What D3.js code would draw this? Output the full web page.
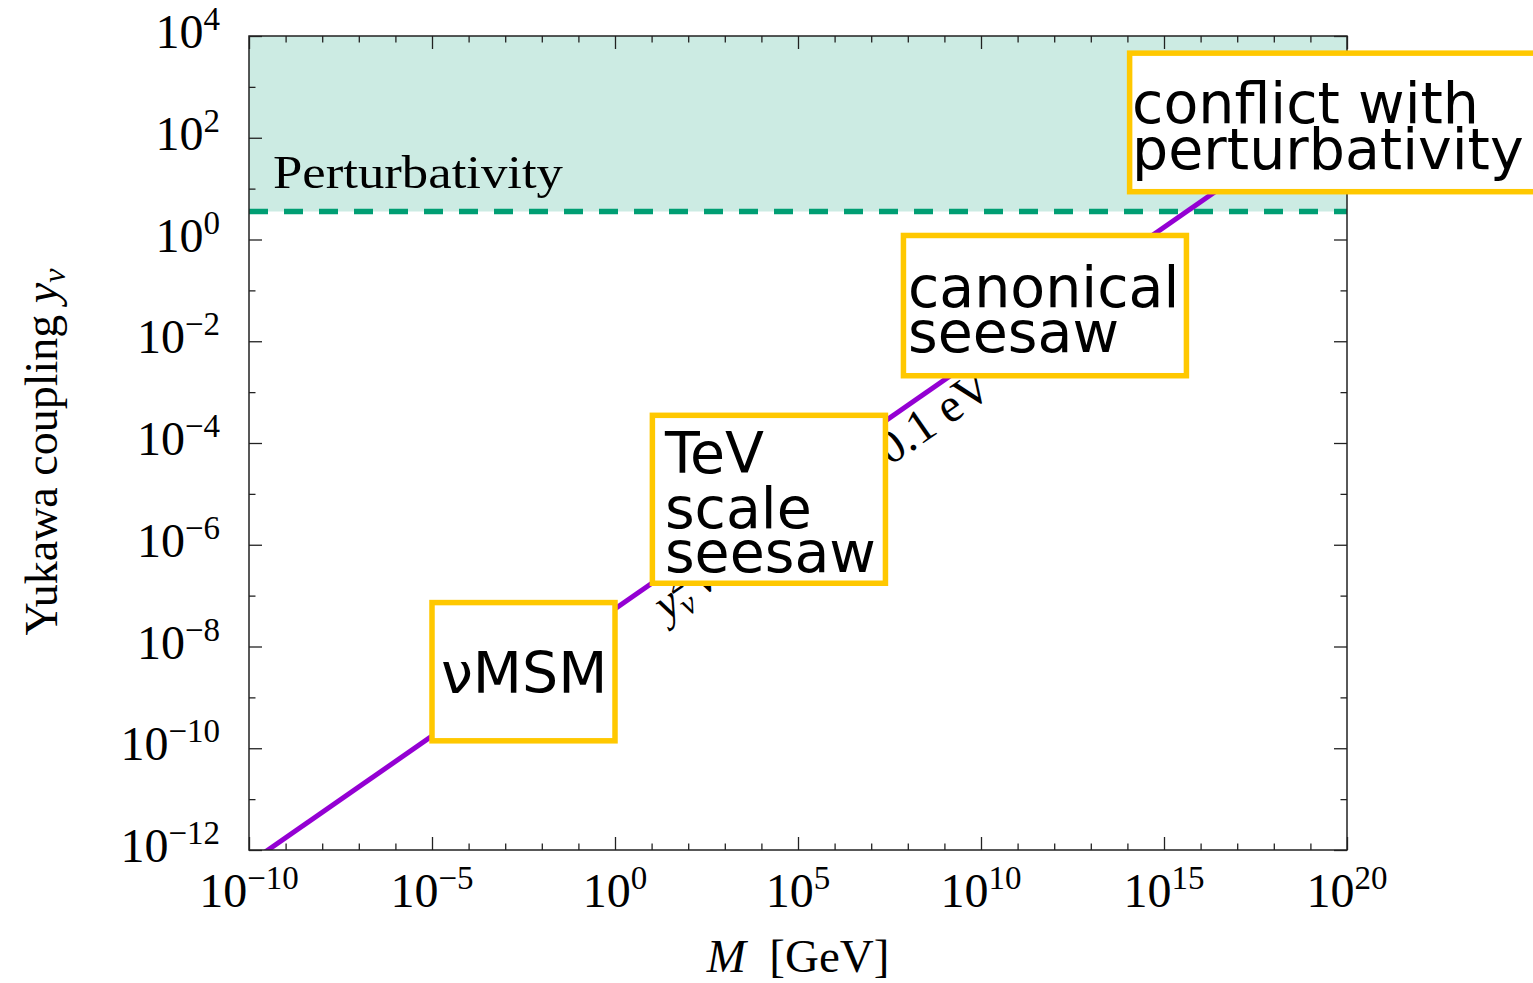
<!DOCTYPE html>
<html>
<head>
<meta charset="utf-8">
<script src="https://cdn.jsdelivr.net/npm/d3@7"></script>
<style>
  html, body { margin: 0; padding: 0; background: #fff; overflow: hidden; }
  svg text { font-family: "Liberation Serif", "Times New Roman", serif; fill: #000; }
  svg text.box-label { font-family: "DejaVu Sans", sans-serif; }
</style>
</head>
<body>
<svg id="chart" width="1533" height="983"></svg>
<script>
'use strict';

// axis ranges and ticks (exponents of ten)
const massDomain = [1e-10, 1e20];
const yukawaDomain = [1e-12, 1e4];
const massMajorExp = [-10, -5, 0, 5, 10, 15, 20];
const massMinorExp = d3.range(-10, 21);
const yukawaMajorExp = [-12, -10, -8, -6, -4, -2, 0, 2, 4];
const yukawaMinorExp = d3.range(-12, 5);

const lineMass = [1e-10, 1e20];
const lineYukawa = [5.5e-13, 5.5e2];

// perturbativity bound on the Yukawa coupling
const perturbativityLimit = 3.55;

// labelled regions: text lines, mass span and coupling span of the box
const regionLines = [['νMSM'], ['TeV', 'scale', 'seesaw'], ['canonical', 'seesaw'], ['conflict with', 'perturbativity']];
const regionMass = [[1e-5, 1e0], [1.05e1, 2.45e7], [7.6e7, 4.1e15], [1.15e14, 2e25]];
const regionYukawa = [[7.3e-8, 1.4e-10], [3.5e-4, 1.75e-7], [1.2e0, 2.1e-3], [4.6e3, 8.7e0]];

const W = 1533, H = 983;
const plot = { left: 249, right: 1347, top: 36, bottom: 850 };

const x = d3.scaleLog().domain(massDomain).range([plot.left, plot.right]);
const y = d3.scaleLog().domain(yukawaDomain).range([plot.bottom, plot.top]);

const svg = d3.select('#chart');
svg.append('rect').attr('width', W).attr('height', H).attr('fill', '#fff');

svg.append('defs').append('clipPath').attr('id', 'plot-clip')
  .append('rect')
    .attr('x', plot.left).attr('y', plot.top)
    .attr('width', plot.right - plot.left).attr('height', plot.bottom - plot.top);

const plotg = svg.append('g').attr('clip-path', 'url(#plot-clip)');

// excluded (non perturbative) region
plotg.append('rect')
    .attr('x', plot.left)
    .attr('y', plot.top)
    .attr('width', plot.right - plot.left)
    .attr('height', y(perturbativityLimit) - plot.top)
    .attr('fill', '#ccebe3');

plotg.append('line')
    .attr('x1', plot.left).attr('x2', plot.right)
    .attr('y1', y(perturbativityLimit)).attr('y2', y(perturbativityLimit))
    .attr('stroke', '#009e73')
    .attr('stroke-width', 5.5)
    .attr('stroke-dasharray', '19 16');

const linePts = d3.zip(lineMass, lineYukawa);
plotg.append('path')
    .datum(linePts)
    .attr('d', d3.line().x(d => x(d[0])).y(d => y(d[1])))
    .attr('fill', 'none')
    .attr('stroke', '#9400d3')
    .attr('stroke-width', 5);

// label running along the line (start and end pieces, middle sits under a box)
const p0 = [x(lineMass[0]), y(lineYukawa[0])];
const p1 = [x(lineMass[1]), y(lineYukawa[1])];
const ang = Math.atan2(p1[1] - p0[1], p1[0] - p0[0]);
const slope = (p1[1] - p0[1]) / (p1[0] - p0[0]);
const ax0 = x(10 ** 0.79);
const ay0 = p0[1] + (ax0 - p0[0]) * slope;
const off = 40;
const labg = plotg.append('g')
    .attr('transform', `translate(${ax0 - Math.sin(ang) * off}, ${ay0 + Math.cos(ang) * off}) rotate(${ang * 180 / Math.PI})`);
const lab = labg.append('text').attr('font-size', 46);
lab.append('tspan').attr('font-style', 'italic').text('y');
lab.append('tspan').attr('font-style', 'italic').attr('font-size', 32).attr('dy', 8).text('ν');
lab.append('tspan').attr('font-size', 32).attr('dx', -15).attr('dy', -27).text('2');
lab.append('tspan').attr('font-style', 'italic').attr('dy', 19).text('\u2009v');
lab.append('tspan').attr('font-size', 32).attr('dy', -19).text('2');
lab.append('tspan').attr('dy', 19).text('/');
lab.append('tspan').attr('font-style', 'italic').text('M');
labg.append('text')
    .attr('x', 400)
    .attr('text-anchor', 'end')
    .attr('font-size', 48)
    .text('= 0.1 eV');

plotg.append('text')
    .attr('x', plot.left + 24)
    .attr('y', y(perturbativityLimit) - 24)
    .attr('font-size', 47)
    .attr('textLength', 290)
    .attr('lengthAdjust', 'spacingAndGlyphs')
    .text('Perturbativity');

// ticks (inward on all four sides)
const tickColor = '#222';
function drawTicks(axisFn, transform, values, size) {
  const g = svg.append('g')
      .attr('transform', transform)
      .call(axisFn.tickValues(values).tickSizeInner(-size).tickSizeOuter(0).tickFormat(''));
  g.select('.domain').remove();
  g.selectAll('.tick line').attr('stroke', tickColor).attr('stroke-width', 1.3);
}
const massMajor = massMajorExp.map(e => 10 ** e);
const massMinor = massMinorExp.filter(e => !massMajorExp.includes(e)).map(e => 10 ** e);
const yukMajor = yukawaMajorExp.map(e => 10 ** e);
const yukMinor = yukawaMinorExp.filter(e => !yukawaMajorExp.includes(e)).map(e => 10 ** e);

drawTicks(d3.axisBottom(x), `translate(0,${plot.bottom})`, massMajor, 13);
drawTicks(d3.axisBottom(x), `translate(0,${plot.bottom})`, massMinor, 6.5);
drawTicks(d3.axisTop(x), `translate(0,${plot.top})`, massMajor, 13);
drawTicks(d3.axisTop(x), `translate(0,${plot.top})`, massMinor, 6.5);
drawTicks(d3.axisLeft(y), `translate(${plot.left},0)`, yukMajor, 13);
drawTicks(d3.axisLeft(y), `translate(${plot.left},0)`, yukMinor, 6.5);
drawTicks(d3.axisRight(y), `translate(${plot.right},0)`, yukMajor, 13);
drawTicks(d3.axisRight(y), `translate(${plot.right},0)`, yukMinor, 6.5);

svg.append('rect')
    .attr('x', plot.left).attr('y', plot.top)
    .attr('width', plot.right - plot.left).attr('height', plot.bottom - plot.top)
    .attr('fill', 'none')
    .attr('stroke', tickColor)
    .attr('stroke-width', 1.5);

// region boxes
const boxLayout = [
  { dx: 9, baselines: [90.5] },
  { dx: 12.5, baselines: [57.5, 112.5, 156.5] },
  { dx: 4.5, baselines: [71.5, 116.5] },
  { dx: 2.5, baselines: [69.5, 115.5] }
];
const boxes = regionLines.map((lines, i) => ({
  lines,
  m: regionMass[i],
  c: regionYukawa[i],
  layout: boxLayout[i]
}));
const boxg = svg.selectAll('g.region').data(boxes).enter().append('g').classed('region', true)
    .attr('transform', d => `translate(${x(d.m[0])}, ${y(d.c[0])})`);
boxg.append('rect')
    .attr('width', d => x(d.m[1]) - x(d.m[0]))
    .attr('height', d => y(d.c[1]) - y(d.c[0]))
    .attr('fill', '#fff')
    .attr('stroke', '#ffc800')
    .attr('stroke-width', 5.5);
boxg.each(function (d) {
  const g = d3.select(this);
  d.lines.forEach((ln, k) => {
    g.append('text')
        .classed('box-label', true)
        .attr('x', d.layout.dx)
        .attr('y', d.layout.baselines[k])
        .attr('font-size', 57)
        .text(ln);
  });
});

// tick labels
function powLabel(sel, exp) {
  sel.append('tspan').text('10');
  sel.append('tspan')
      .attr('font-size', 33)
      .attr('dy', -18)
      .text(String(exp).replace('-', '\u2212'));
}
massMajorExp.forEach(e => {
  const t = svg.append('text')
      .attr('x', x(10 ** e))
      .attr('y', plot.bottom + 57)
      .attr('text-anchor', 'middle')
      .attr('font-size', 48);
  powLabel(t, e);
});
yukawaMajorExp.forEach(e => {
  const t = svg.append('text')
      .attr('x', 220)
      .attr('y', y(10 ** e) + 12)
      .attr('text-anchor', 'end')
      .attr('font-size', 48);
  powLabel(t, e);
});

// axis titles
const xt = svg.append('text')
    .attr('x', (plot.left + plot.right) / 2)
    .attr('y', 972)
    .attr('text-anchor', 'middle')
    .attr('font-size', 47);
xt.append('tspan').attr('font-style', 'italic').text('M');
xt.append('tspan').text('\u00a0\u00a0[GeV]');

const yt = svg.append('text')
    .attr('transform', 'translate(57, 452) rotate(-90)')
    .attr('text-anchor', 'middle')
    .attr('font-size', 46);
yt.append('tspan').text('Yukawa coupling ');
yt.append('tspan').attr('font-style', 'italic').text('y');
yt.append('tspan').attr('font-style', 'italic').attr('font-size', 32).attr('dy', 8).text('ν');
</script>
</body>
</html>
